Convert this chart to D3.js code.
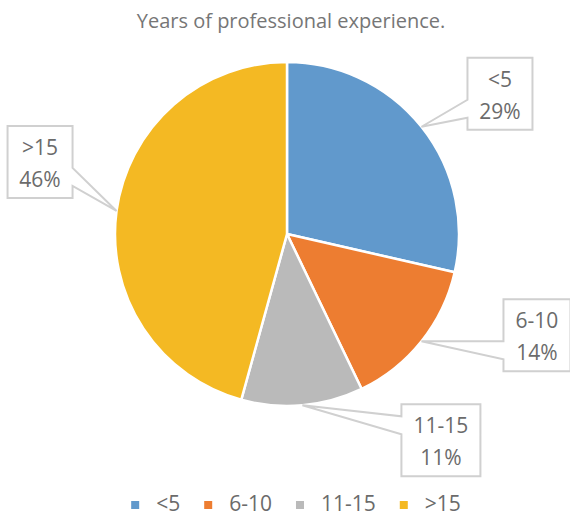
<!DOCTYPE html>
<html>
  <head>
    <meta charset="utf-8">
    <title>Years of professional experience</title>
    <script src="https://cdn.jsdelivr.net/npm/d3@7"></script>
    <style>
      body { margin: 0; background: #fff; }
      text { font-family: "Open Sans", sans-serif; }
    </style>
  </head>

  <body>
    <svg id="chart" width="570" height="518"></svg>

    <script>
      // data
      categories = ["<5", "6-10", "11-15", ">15"];
      counts = [10, 5, 4, 16];
      colours = ["#6199cc", "#ed7d31", "#bababa", "#f4b923"];
      title = "Years of professional experience.";

      // label box offsets from the callout tip (left/right edge, top)
      labelOffsets = [[46, -69], [82, -42], [99, -1], [-44, -85]];

      width = 570;
      height = 518;
      cx = 287;
      cy = 234;
      radius = 172;
      textColour = "#6b6b6b";

      chart = d3.select("#chart");
      total = d3.sum(counts);
      pct = d3.format(".0%");

      // title
      chart.append("text")
        .attr("x", 291)
        .attr("y", 28)
        .attr("text-anchor", "middle")
        .attr("fill", "#767676")
        .style("font-size", "20px")
        .text(title);

      pie = d3.pie().sort(null).value(d => d)(counts);
      arc = d3.arc().innerRadius(0).outerRadius(radius);

      pieGroup = chart.append("g")
        .attr("transform", "translate(" + cx + "," + cy + ")");

      pieGroup.selectAll("path")
        .data(pie)
        .enter().append("path")
          .attr("d", arc)
          .attr("fill", (d, i) => colours[i])
          .attr("stroke", "#fff")
          .attr("stroke-width", 2.5)
          .attr("stroke-linejoin", "round");

      // callout labels
      labelGroup = chart.append("g");
      pie.forEach(function(d, i) {
        let mid = (d.startAngle + d.endAngle) / 2;
        let tipX = cx + radius * Math.sin(mid);
        let tipY = cy - radius * Math.cos(mid);
        let lines = [categories[i], pct(counts[i] / total)];

        let g = labelGroup.append("g");
        let texts = g.selectAll("text")
          .data(lines)
          .enter().append("text")
            .attr("text-anchor", "middle")
            .attr("fill", textColour)
            .style("font-size", "21px")
            .text(t => t);
        let textW = d3.max(texts.nodes(), n => n.getComputedTextLength());
        let w = Math.round(textW + 24);
        let h = 72;

        let off = labelOffsets[i];
        let left = off[0] > 0 ? tipX + off[0] : tipX + off[0] - w;
        let top = tipY + off[1];
        let right = left + w;
        let bottom = top + h;

        // wedge base on the side facing the tip
        let f = tipY > top + h / 2 ? [7 / 12, 10 / 12] : [2 / 12, 5 / 12];
        let y1 = top + h * f[0], y2 = top + h * f[1];
        let pts;
        if (tipX < left) {
          pts = [[left, top], [right, top], [right, bottom], [left, bottom],
                 [left, y2], [tipX, tipY], [left, y1]];
        } else {
          pts = [[left, top], [right, top], [right, y1], [tipX, tipY],
                 [right, y2], [right, bottom], [left, bottom]];
        }
        g.insert("path", "text")
          .attr("d", "M" + pts.join("L") + "Z")
          .attr("fill", "#fff")
          .attr("stroke", "#d0d0d0")
          .attr("stroke-width", 2);

        texts.attr("x", left + w / 2)
          .attr("y", (t, j) => top + 29 + j * 32);
      });

      // legend
      legend = chart.append("g");
      let lx = 0;
      categories.forEach(function(c, i) {
        let item = legend.append("g").attr("transform", "translate(" + lx + ",0)");
        item.append("rect")
          .attr("x", 0)
          .attr("y", 501)
          .attr("width", 8)
          .attr("height", 8)
          .attr("fill", colours[i]);
        let t = item.append("text")
          .attr("x", 25)
          .attr("y", 511)
          .attr("fill", textColour)
          .style("font-size", "21px")
          .text(c);
        lx += 25 + t.node().getComputedTextLength() + 24;
      });
      legendWidth = lx - 24;
      legend.attr("transform", "translate(" + (296 - legendWidth / 2) + ",0)");
    </script>
  </body>
</html>
